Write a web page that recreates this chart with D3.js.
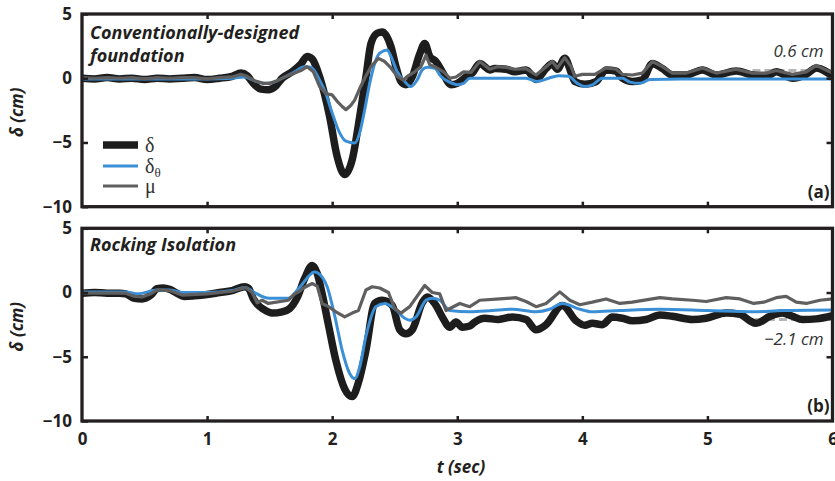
<!DOCTYPE html>
<html>
<head>
<meta charset="utf-8">
<script src="https://cdnjs.cloudflare.com/ajax/libs/d3/7.8.5/d3.min.js"></script>
<style>
  html, body { margin: 0; padding: 0; background: #fff; }
  svg { display: block; }
</style>
</head>
<body>
<script>
// Time axis (s) and displacement axis (cm)
const xTicks = [0, 1, 2, 3, 4, 5, 6];
const xTickLabels = ["0", "1", "2", "3", "4", "5", "6"];
const yTicks = [5, 0, -5, -10];
const yTickLabels = ["5", "0", "\u22125", "\u221210"];

// (a) Conventionally-designed foundation: [t, value]
const topDelta = [[0,0.0],[0.1,-0.05],[0.2,0.05],[0.3,-0.05],[0.4,0.0],[0.5,-0.1],[0.6,0.0],[0.7,-0.05],[0.8,0.0],[0.9,0.05],[1.0,-0.1],[1.1,0.0],[1.2,0.15],[1.27,0.4],[1.32,0.2],[1.37,-0.4],[1.43,-0.85],[1.49,-0.9],[1.55,-0.6],[1.6,0.0],[1.68,0.5],[1.75,1.1],[1.8,1.7],[1.84,1.5],[1.9,0.1],[1.98,-3.0],[2.04,-6.1],[2.1,-7.5],[2.16,-6.35],[2.22,-3.0],[2.27,0.1],[2.31,2.7],[2.36,3.5],[2.4,3.6],[2.47,2.45],[2.51,0.9],[2.55,-0.25],[2.59,-0.5],[2.64,0.1],[2.7,1.9],[2.74,2.7],[2.78,1.7],[2.83,1.3],[2.88,0.5],[2.95,-0.5],[3.0,-0.4],[3.07,0.1],[3.12,0.4],[3.18,1.15],[3.26,0.65],[3.3,0.75],[3.39,0.7],[3.46,0.5],[3.55,0.65],[3.63,-0.1],[3.71,0.75],[3.76,1.15],[3.8,0.7],[3.86,1.55],[3.91,0.45],[3.94,-0.26],[4.02,-0.47],[4.11,-0.26],[4.19,0.65],[4.27,0.55],[4.32,0.0],[4.4,-0.26],[4.48,-0.13],[4.56,1.15],[4.64,0.75],[4.72,0.25],[4.83,0.25],[4.96,0.65],[5.07,0.25],[5.23,0.57],[5.36,0.25],[5.47,0.15],[5.55,0.5],[5.68,0.0],[5.79,0.3],[5.87,0.8],[6.0,0.15]];
const topDeltaTheta = [[0,-0.05],[0.5,-0.05],[1.0,-0.05],[1.2,0.0],[1.3,0.1],[1.38,-0.2],[1.45,-0.4],[1.52,-0.35],[1.6,0.0],[1.7,0.5],[1.78,0.9],[1.83,0.85],[1.9,-0.15],[1.95,-1.2],[2.0,-2.7],[2.06,-4.25],[2.11,-4.9],[2.18,-5.05],[2.22,-4.25],[2.26,-2.45],[2.3,-0.4],[2.34,1.15],[2.38,1.95],[2.44,2.2],[2.47,1.7],[2.52,0.5],[2.58,-0.26],[2.63,-0.65],[2.68,-0.13],[2.72,0.65],[2.76,0.85],[2.82,0.78],[2.87,0.13],[2.93,-0.26],[3.0,-0.5],[3.05,-0.4],[3.1,0.0],[3.3,0.0],[3.55,0.0],[3.64,-0.26],[3.73,0.0],[3.81,0.2],[3.89,0.15],[3.96,-0.4],[4.02,-0.65],[4.08,-0.52],[4.16,0.0],[4.32,0.0],[4.38,-0.3],[4.46,-0.4],[4.54,-0.1],[4.8,-0.05],[5.2,-0.05],[5.6,-0.05],[6.0,-0.05]];
const topMu = [[0,0.05],[0.1,0.0],[0.2,0.05],[0.3,0.0],[0.4,0.05],[0.5,-0.05],[0.6,0.05],[0.7,0.0],[0.8,0.05],[0.9,0.05],[1.0,-0.05],[1.1,0.05],[1.2,0.1],[1.27,0.3],[1.32,0.15],[1.38,-0.2],[1.45,-0.4],[1.5,-0.4],[1.56,-0.2],[1.62,0.1],[1.7,0.4],[1.75,0.6],[1.8,0.9],[1.85,0.5],[1.9,-0.65],[1.95,-1.2],[2.0,-1.3],[2.04,-1.8],[2.08,-2.2],[2.11,-2.45],[2.15,-2.1],[2.18,-1.7],[2.22,-0.8],[2.26,0.0],[2.31,0.9],[2.37,1.55],[2.42,1.3],[2.47,0.8],[2.52,0.15],[2.57,-0.15],[2.6,0.15],[2.66,0.5],[2.71,0.9],[2.75,1.8],[2.78,1.05],[2.82,0.9],[2.89,0.5],[2.94,0.0],[2.99,0.1],[3.05,0.5],[3.11,0.45],[3.18,1.3],[3.26,0.7],[3.32,0.9],[3.39,0.85],[3.46,0.7],[3.55,0.75],[3.63,0.25],[3.71,0.9],[3.76,1.3],[3.8,0.8],[3.86,1.6],[3.91,0.9],[3.94,0.15],[4.0,0.3],[4.1,0.3],[4.19,0.8],[4.27,0.7],[4.32,0.3],[4.4,0.25],[4.48,0.4],[4.56,1.3],[4.64,0.9],[4.72,0.4],[4.83,0.4],[4.96,0.8],[5.07,0.4],[5.23,0.7],[5.36,0.4],[5.47,0.4],[5.55,0.6],[5.68,0.3],[5.79,0.5],[5.87,1.0],[6.0,0.4]];

// (b) Rocking isolation: [t, value]
const botDelta = [[0,-0.05],[0.1,0.0],[0.2,-0.05],[0.3,-0.05],[0.35,-0.1],[0.42,-0.45],[0.48,-0.5],[0.55,-0.2],[0.6,0.3],[0.65,0.35],[0.7,0.25],[0.75,0.0],[0.82,-0.3],[0.9,-0.25],[1.0,-0.15],[1.1,0.0],[1.2,0.15],[1.3,0.45],[1.33,0.35],[1.37,-0.5],[1.4,-0.9],[1.45,-1.3],[1.52,-1.6],[1.6,-1.5],[1.66,-1.25],[1.72,-0.4],[1.78,1.1],[1.84,2.1],[1.88,1.5],[1.92,-0.1],[1.97,-2.5],[2.03,-5.3],[2.1,-7.5],[2.16,-8.1],[2.21,-7.0],[2.27,-4.5],[2.34,-0.85],[2.4,-0.6],[2.48,-1.0],[2.54,-2.9],[2.59,-3.2],[2.64,-2.9],[2.72,-0.8],[2.76,-0.35],[2.83,-1.0],[2.88,-1.9],[2.94,-2.7],[2.99,-2.3],[3.04,-2.7],[3.1,-2.6],[3.14,-2.3],[3.22,-2.0],[3.33,-2.1],[3.44,-1.9],[3.55,-2.1],[3.63,-2.9],[3.71,-2.5],[3.84,-1.0],[3.95,-2.2],[4.02,-2.55],[4.08,-2.4],[4.16,-2.5],[4.24,-1.9],[4.32,-2.0],[4.4,-2.2],[4.51,-2.1],[4.62,-1.75],[4.72,-1.85],[4.88,-2.1],[4.99,-2.0],[5.15,-1.6],[5.26,-1.7],[5.34,-2.2],[5.39,-2.4],[5.5,-1.85],[5.6,-1.6],[5.68,-1.85],[5.76,-2.1],[5.87,-2.05],[6.0,-1.8]];
const botDeltaTheta = [[0,0.05],[0.35,0.05],[0.45,-0.1],[0.6,0.2],[0.7,0.2],[0.8,0.0],[1.0,0.0],[1.2,0.15],[1.3,0.4],[1.38,0.0],[1.45,-0.35],[1.5,-0.45],[1.65,-0.45],[1.74,0.4],[1.86,1.6],[1.92,1.2],[1.96,0.45],[2.02,-1.8],[2.08,-4.5],[2.14,-6.3],[2.18,-6.7],[2.22,-5.8],[2.27,-3.4],[2.35,-1.1],[2.42,-0.85],[2.51,-1.35],[2.58,-2.0],[2.62,-2.15],[2.67,-1.9],[2.75,-0.6],[2.8,-0.45],[2.86,-0.6],[2.94,-1.4],[3.1,-1.5],[3.28,-1.4],[3.44,-1.3],[3.63,-1.5],[3.74,-1.3],[3.84,-0.85],[3.98,-1.3],[4.08,-1.5],[4.3,-1.4],[4.62,-1.3],[5.0,-1.4],[5.37,-1.5],[5.6,-1.4],[6.0,-1.35]];
const botMu = [[0,-0.05],[0.35,-0.05],[0.42,-0.3],[0.48,-0.35],[0.55,-0.1],[0.6,0.2],[0.7,0.15],[0.8,-0.2],[1.0,-0.1],[1.2,0.1],[1.31,0.4],[1.36,0.0],[1.4,-0.8],[1.44,-0.6],[1.49,-0.85],[1.65,-0.6],[1.7,-0.1],[1.74,0.1],[1.77,0.35],[1.84,0.7],[1.88,0.5],[1.92,-0.85],[1.97,-1.1],[2.03,-1.5],[2.1,-1.9],[2.16,-1.6],[2.21,-1.4],[2.27,0.2],[2.32,0.45],[2.38,0.35],[2.45,0.0],[2.5,-1.25],[2.55,-1.6],[2.62,-1.1],[2.74,0.55],[2.8,0.0],[2.86,-0.1],[2.91,-1.4],[3.02,-0.85],[3.1,-1.1],[3.18,-0.6],[3.34,-0.5],[3.47,-0.4],[3.55,-0.7],[3.63,-1.1],[3.71,-0.85],[3.82,0.05],[3.9,-0.6],[3.98,-0.95],[4.08,-0.75],[4.19,-0.5],[4.3,-0.85],[4.4,-0.75],[4.62,-0.4],[4.72,-0.5],[4.88,-0.6],[4.99,-0.7],[5.15,-0.4],[5.26,-0.5],[5.37,-0.85],[5.45,-0.75],[5.55,-0.4],[5.63,-0.3],[5.71,-0.75],[5.79,-0.85],[5.9,-0.6],[6.0,-0.5]];

// Residual (permanent) displacement markers
const residualTop = { value: 0.6, from: 5.36, label: "0.6 cm" };
const residualBot = { value: -2.1, from: 5.38, label: "\u22122.1 cm" };

const W = 835, H = 481;
const left = 82, right = 832.5;
const colors = { delta: "#1d1d1d", theta: "#3b8fd6", mu: "#5f5f5f", frame: "#231f20", text: "#231f20" };

const svg = d3.select("body").append("svg").attr("width", W).attr("height", H);
svg.append("rect").attr("width", W).attr("height", H).attr("fill", "#fff");

const x = d3.scaleLinear().domain([0, 6]).range([left, right]);

const panels = [
  { id: "a", top: 14, bottom: 206.7, delta: topDelta, theta: topDeltaTheta, mu: topMu,
    title: ["Conventionally-designed", "foundation"], titleY: [39, 61.5], tag: "(a)",
    residual: residualTop, labelBelow: false, xLabels: false },
  { id: "b", top: 228.3, bottom: 421, delta: botDelta, theta: botDeltaTheta, mu: botMu,
    title: ["Rocking Isolation"], titleY: [250.5], tag: "(b)",
    residual: residualBot, labelBelow: true, xLabels: true }
];

const sans = "'Open Sans', sans-serif";

panels.forEach(p => {
  const y = d3.scaleLinear().domain([-10, 5]).range([p.bottom, p.top]);
  const g = svg.append("g");

  const clipId = "clip-" + p.id;
  svg.append("clipPath").attr("id", clipId)
    .append("rect").attr("x", left).attr("y", p.top).attr("width", right - left).attr("height", p.bottom - p.top);

  const plot = g.append("g").attr("clip-path", `url(#${clipId})`);

  // residual dashed reference
  plot.append("line")
    .attr("x1", x(p.residual.from)).attr("x2", x(6))
    .attr("y1", y(p.residual.value)).attr("y2", y(p.residual.value))
    .attr("stroke", "#b5b5b5").attr("stroke-width", 3).attr("stroke-dasharray", "8,4");

  const line = d3.line().x(d => x(d[0])).y(d => y(d[1]));
  const smooth = d3.line().x(d => x(d[0])).y(d => y(d[1])).curve(d3.curveMonotoneX);

  plot.append("path").attr("d", smooth(p.delta)).attr("fill", "none")
    .attr("stroke", colors.delta).attr("stroke-width", 7.5).attr("stroke-linejoin", "round").attr("stroke-linecap", "round");
  plot.append("path").attr("d", smooth(p.theta)).attr("fill", "none")
    .attr("stroke", colors.theta).attr("stroke-width", 3).attr("stroke-linejoin", "round");
  plot.append("path").attr("d", line(p.mu)).attr("fill", "none")
    .attr("stroke", colors.mu).attr("stroke-width", 3.2).attr("stroke-linejoin", "round");

  // axes: ticks point inward on all four sides
  const axL = d3.axisLeft(y).tickValues(yTicks).tickSize(-6).tickPadding(10)
    .tickFormat((d, i) => yTickLabels[i]);
  const axR = d3.axisRight(y).tickValues([0, -5]).tickSize(-6).tickFormat("");
  const axT = d3.axisTop(x).tickValues(xTicks.slice(1, -1)).tickSize(-5).tickFormat("");
  const axB = d3.axisBottom(x).tickValues(p.xLabels ? xTicks : xTicks.slice(1, -1)).tickSize(-5).tickPadding(12)
    .tickFormat((d, i) => p.xLabels ? xTickLabels[i] : "");

  const styleAxis = sel => {
    sel.select(".domain").remove();
    sel.selectAll(".tick line").attr("stroke", colors.frame).attr("stroke-width", 2.5);
    sel.selectAll(".tick text").attr("fill", colors.text).attr("font-family", sans)
      .attr("font-weight", 700).attr("font-size", 17);
  };
  g.append("g").attr("transform", `translate(${left},0)`).call(axL).call(styleAxis);
  g.append("g").attr("transform", `translate(${right},0)`).call(axR).call(styleAxis);
  g.append("g").attr("transform", `translate(0,${p.top})`).call(axT).call(styleAxis);
  const gb = g.append("g").attr("transform", `translate(0,${p.bottom})`).call(axB).call(styleAxis);
  if (p.xLabels) gb.selectAll(".tick").filter(d => d === 0 || d === 6).select("line").remove();

  // frame
  g.append("rect").attr("x", left).attr("y", p.top).attr("width", right - left).attr("height", p.bottom - p.top)
    .attr("fill", "none").attr("stroke", colors.frame).attr("stroke-width", 3.3);

  // panel title
  p.title.forEach((t, i) => {
    g.append("text").attr("x", left + 8).attr("y", p.titleY[i])
      .attr("font-family", sans).attr("font-weight", 700).attr("font-style", "italic")
      .attr("font-size", 18).attr("fill", colors.text).text(t);
  });

  // panel tag
  g.append("text").attr("x", right - 3).attr("y", p.bottom - 9).attr("text-anchor", "end")
    .attr("font-family", sans).attr("font-weight", 700).attr("font-size", 17).attr("fill", colors.text).text(p.tag);

  // residual label
  g.append("text").attr("x", right - 9).attr("text-anchor", "end")
    .attr("y", p.labelBelow ? y(p.residual.value) + 25 : y(p.residual.value) - 14)
    .attr("font-family", sans).attr("font-style", "italic").attr("font-size", 17)
    .attr("fill", "#333").text(p.residual.label);

  // y-axis title
  const yc = (p.top + p.bottom) / 2 + 2;
  g.append("text").attr("transform", `translate(23,${yc}) rotate(-90)`).attr("text-anchor", "middle")
    .attr("font-family", sans).attr("font-weight", 700).attr("font-style", "italic").attr("font-size", 17)
    .attr("fill", colors.text).text("\u03b4 (cm)");
});

// legend (top panel)
const legendItems = [
  { key: "delta", label: "\u03b4", sub: null, width: 7.5, y: 145 },
  { key: "theta", label: "\u03b4", sub: "\u03b8", width: 3, y: 166 },
  { key: "mu", label: "\u03bc", sub: null, width: 3.2, y: 186 }
];
const lg = svg.append("g");
legendItems.forEach(it => {
  lg.append("line").attr("x1", 103).attr("x2", 138).attr("y1", it.y).attr("y2", it.y)
    .attr("stroke", colors[it.key]).attr("stroke-width", it.width);
  const t = lg.append("text").attr("x", 145).attr("y", it.y + 7)
    .attr("font-family", "'Liberation Serif', serif").attr("font-size", 20).attr("fill", "#333");
  t.append("tspan").text(it.label);
  if (it.sub) t.append("tspan").attr("font-size", 13).attr("dy", 4).text(it.sub);
});

// x-axis title
svg.append("text").attr("x", 461).attr("y", 473).attr("text-anchor", "middle")
  .attr("font-family", sans).attr("font-weight", 700).attr("font-style", "italic").attr("font-size", 17)
  .attr("fill", colors.text).text("t (sec)");
</script>
</body>
</html>
